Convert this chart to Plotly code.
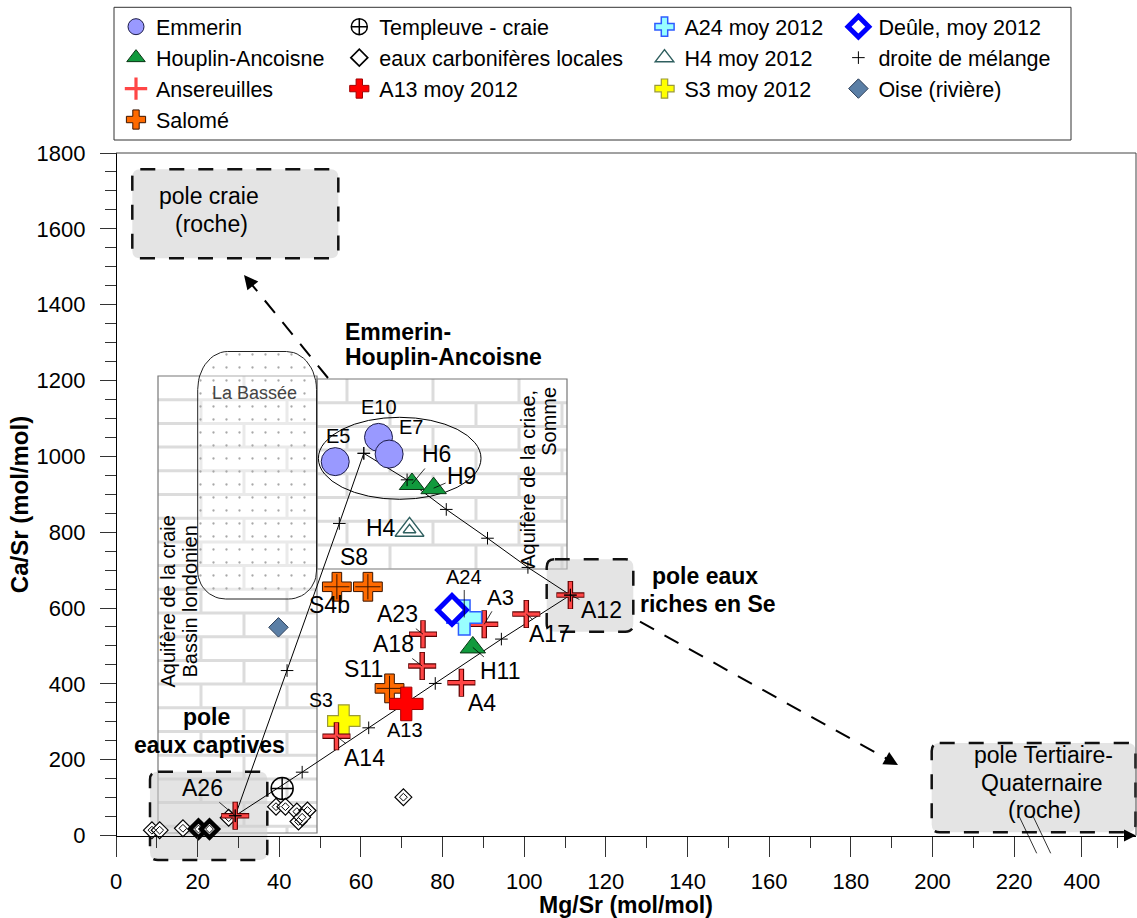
import numpy as np
import plotly.graph_objects as go

FONT = "Liberation Sans, Arial, sans-serif"

# ---------------- data ----------------
emmerin_names = ["E5", "E10", "E7"]
emmerin_x = [53.7, 64.3, 66.9]
emmerin_y = [986, 1050, 1006]

houplin_names = ["H6", "H9", "H11"]
houplin_x = [72.5, 77.8, 87.4]
houplin_y = [927, 916, 496]

ansereuilles_names = ["A12", "A17", "A3", "A23", "A18", "A4", "A14", "A26"]
ansereuilles_x = [111.3, 100.5, 90.2, 75.2, 75.0, 84.6, 54.0, 29.2]
ansereuilles_y = [634, 584, 557, 531, 447, 403, 262, 52]

salome_names = ["S4b", "S8", "S11"]
salome_x = [54.1, 61.7, 67.0]
salome_y = [656, 656, 388]

templeuve_x = [40.7]
templeuve_y = [124]

carbonifere_x = [8.8, 10.7, 16.4, 20.2, 22.9, 27.6, 39.2, 41.5, 44.3, 46.9, 44.7, 45.6, 70.4]
carbonifere_y = [14, 14, 19, 17, 17, 47, 76, 76, 63, 66, 37, 48, 101]

a13_names, a13_x, a13_y = ["A13"], [71.1], [347]
a24_names, a24_x, a24_y = ["A24"], [85.3], [575]
h4_names, h4_x, h4_y = ["H4"], [71.9], [806]
s3_names, s3_x, s3_y = ["S3"], [55.8], [302]
deule_x, deule_y = [82.3], [595]
oise_x, oise_y = [39.8], [549]

# droite de mélange : three mixing segments (A26 -> E, E -> A12, A26 -> A12)
melange_x = [29.2, 41.9, 54.7, 60.7, None,
             60.7, 71.3, 80.9, 91.0, 100.9, 111.3, None,
             29.2, 45.6, 61.9, 78.2, 94.4, 111.3]
melange_y = [52, 435, 823, 1008, None,
             1008, 938, 860, 784, 707, 634, None,
             52, 167, 284, 401, 518, 634]

x_tick_values = list(range(0, 221, 20))
x_tick_labels = [str(v) for v in x_tick_values]
y_tick_values = list(range(0, 1801, 200))

# ---------------- layout geometry helpers ----------------
W_FIG, H_FIG = 1137, 918
L, T, PW, PH = 116, 153, 1020, 703
XS = 4.0825                 # px per x unit
YS = 682.5 / 1800           # px per y unit
BREAK_POS = 236.6           # axis position used for the "400" label after the break


def px_x(x): return L + x * XS
def px_y(y): return T + (1800 - y) * YS
def dat_x(px): return (px - L) / XS
def dat_y(py): return 1800 - (py - T) / YS
def pap_x(px): return (px - L) / PW
def pap_y(py): return (T + PH - py) / PH
def P(px, py): return f"{pap_x(px):.5f},{pap_y(py):.5f}"


def rbox_path(x0, y0, x1, y1, r=8):
    return (f"M{P(x0 + r, y0)} L{P(x1 - r, y0)} Q{P(x1, y0)} {P(x1, y0 + r)} "
            f"L{P(x1, y1 - r)} Q{P(x1, y1)} {P(x1 - r, y1)} L{P(x0 + r, y1)} "
            f"Q{P(x0, y1)} {P(x0, y1 - r)} L{P(x0, y0 + r)} Q{P(x0, y0)} {P(x0 + r, y0)} Z")


def brick_path(x0, y0, x1, y1, bw=86, bh=23.7, shift=0):
    segs = []
    y = y0 + bh
    while y < y1 - 3:
        segs.append(f"M{P(x0, y)} L{P(x1, y)}")
        y += bh
    row, yt = 0, y0
    while yt < y1 - 3:
        yb = min(yt + bh, y1)
        x = x0 + ((shift + (bw / 2 if row % 2 else 0)) % bw)
        while x < x1 - 3:
            if x > x0 + 3:
                segs.append(f"M{P(x, yt)} L{P(x, yb)}")
            x += bw
        row += 1
        yt += bh
    return " ".join(segs)


def rounded_outline(x0, y0, x1, y1, rtx, rty, rbx, rby, n=14):
    pts = []
    for a in np.linspace(np.pi, 1.5 * np.pi, n):
        pts.append((x0 + rtx + rtx * np.cos(a), y0 + rty + rty * np.sin(a)))
    for a in np.linspace(1.5 * np.pi, 2 * np.pi, n):
        pts.append((x1 - rtx + rtx * np.cos(a), y0 + rty + rty * np.sin(a)))
    for a in np.linspace(0, 0.5 * np.pi, n):
        pts.append((x1 - rbx + rbx * np.cos(a), y1 - rby + rby * np.sin(a)))
    for a in np.linspace(0.5 * np.pi, np.pi, n):
        pts.append((x0 + rbx + rbx * np.cos(a), y1 - rby + rby * np.sin(a)))
    pts.append(pts[0])
    return [dat_x(p[0]) for p in pts], [dat_y(p[1]) for p in pts]


fig = go.Figure()

# La Bassée dotted area
bx, by = rounded_outline(197.7, 351.5, 316.5, 599, 30, 38, 28, 28)
fig.add_trace(go.Scatter(
    x=bx, y=by, mode="lines", fill="toself",
    fillcolor="rgba(255,255,255,0.4)",
    fillpattern=dict(shape=".", bgcolor="rgba(255,255,255,0.4)", fgcolor="#a8a8a8",
                     size=13, solidity=0.025),
    line=dict(color="#222", width=1), showlegend=False, hoverinfo="skip"))

# mixing lines
fig.add_trace(go.Scatter(x=melange_x, y=melange_y, mode="lines",
                         line=dict(color="black", width=1), showlegend=False,
                         hoverinfo="skip", legend="legend4"))

# eaux carbonifères locales
carb_lw = [1.2] * len(carbonifere_x)
carb_lw[3] = 4.5
carb_lw[4] = 4.5
fig.add_trace(go.Scatter(
    x=carbonifere_x, y=carbonifere_y, mode="markers", name="eaux carbonifères locales",
    marker=dict(symbol="diamond", size=13, color="white",
                line=dict(color="black", width=carb_lw)),
    legend="legend2", legendgroup="carb", legendrank=2))
fig.add_trace(go.Scatter(
    x=carbonifere_x, y=carbonifere_y, mode="markers", showlegend=False,
    marker=dict(symbol="diamond-open", size=6, color="black", line=dict(color="black", width=1)),
    legend="legend2", legendgroup="carb", hoverinfo="skip"))

# Templeuve
fig.add_trace(go.Scatter(
    x=templeuve_x, y=templeuve_y, mode="markers", name="Templeuve - craie",
    marker=dict(symbol="circle-cross-open", size=22, color="black",
                line=dict(color="black", width=1.5)),
    legend="legend2", legendgroup="temp", legendrank=1))

# Salomé
fig.add_trace(go.Scatter(
    x=salome_x, y=salome_y, mode="markers", name="Salomé",
    marker=dict(symbol="cross", size=24, color="#ff6a00", line=dict(color="#3b1500", width=1)),
    legend="legend", legendgroup="sal", legendrank=4))
fig.add_trace(go.Scatter(
    x=salome_x, y=salome_y, mode="markers", showlegend=False, hoverinfo="skip",
    marker=dict(symbol="cross-thin-open", size=18, color="#3b1500", line=dict(color="#3b1500", width=1)),
    legend="legend", legendgroup="sal"))

# S3 moy 2012
fig.add_trace(go.Scatter(
    x=s3_x, y=s3_y, mode="markers", name="S3 moy 2012",
    marker=dict(symbol="cross", size=27, color="#ffff00", line=dict(color="#9a9a3a", width=1.2)),
    legend="legend3", legendgroup="s3", legendrank=3))

# A13 moy 2012
fig.add_trace(go.Scatter(
    x=a13_x, y=a13_y, mode="markers", name="A13 moy 2012",
    marker=dict(symbol="cross", size=28, color="#ff0000", line=dict(color="#a00000", width=1)),
    legend="legend2", legendgroup="a13", legendrank=3))

# Ansereuilles (thin red cross with dark outline)
fig.add_trace(go.Scatter(
    x=ansereuilles_x, y=ansereuilles_y, mode="markers", showlegend=False, hoverinfo="skip",
    marker=dict(symbol="cross-thin-open", size=20, color="#5a0000",
                line=dict(color="#5a0000", width=5.5)),
    legend="legend", legendgroup="ans"))
fig.add_trace(go.Scatter(
    x=ansereuilles_x, y=ansereuilles_y, mode="markers", name="Ansereuilles",
    marker=dict(symbol="cross-thin-open", size=19, color="#ff4646",
                line=dict(color="#ff4646", width=3.2)),
    legend="legend", legendgroup="ans", legendrank=3))

# A24 moy 2012
fig.add_trace(go.Scatter(
    x=a24_x, y=a24_y, mode="markers", name="A24 moy 2012",
    marker=dict(symbol="cross", size=29, color="#99ffff", line=dict(color="#2e5cff", width=1.5)),
    legend="legend3", legendgroup="a24", legendrank=1))

# Deûle
fig.add_trace(go.Scatter(
    x=deule_x, y=deule_y, mode="markers", name="Deûle, moy 2012",
    marker=dict(symbol="diamond", size=22, color="white", line=dict(color="#0000ff", width=5)),
    legend="legend4", legendgroup="deule", legendrank=1))

# Emmerin
fig.add_trace(go.Scatter(
    x=emmerin_x, y=emmerin_y, mode="markers", name="Emmerin",
    marker=dict(symbol="circle", size=28, color="#9999ff", line=dict(color="#1c1c48", width=1)),
    legend="legend", legendgroup="emm", legendrank=1))

# Houplin-Ancoisne
fig.add_trace(go.Scatter(
    x=houplin_x, y=houplin_y, mode="markers", name="Houplin-Ancoisne",
    marker=dict(symbol="triangle-up", size=22, color="#119a3d", line=dict(color="#0a3414", width=1)),
    legend="legend", legendgroup="hou", legendrank=2))

# H4 moy 2012
fig.add_trace(go.Scatter(
    x=h4_x, y=h4_y, mode="markers", name="H4 moy 2012",
    marker=dict(symbol="triangle-up", size=25, color="white", line=dict(color="#2f5f5f", width=1.5)),
    legend="legend3", legendgroup="h4", legendrank=2))
fig.add_trace(go.Scatter(
    x=h4_x, y=h4_y, mode="markers", showlegend=False, hoverinfo="skip",
    marker=dict(symbol="triangle-up-open", size=11, color="#2f5f5f", line=dict(color="#2f5f5f", width=1.5)),
    legend="legend3", legendgroup="h4"))

# droite de mélange markers
fig.add_trace(go.Scatter(
    x=melange_x, y=melange_y, mode="markers", name="droite de mélange",
    marker=dict(symbol="cross-thin-open", size=9, color="black", line=dict(color="black", width=1)),
    legend="legend4", legendgroup="mel", legendrank=2))

# Oise
fig.add_trace(go.Scatter(
    x=oise_x, y=oise_y, mode="markers", name="Oise (rivière)",
    marker=dict(symbol="diamond", size=15, color="#5b7fa6", line=dict(color="#2c3e58", width=1)),
    legend="legend4", legendgroup="oise", legendrank=3))

# ---------------- shapes ----------------
shapes = []
BASSIN = (158, 376, 317, 833)
SOMME = (317, 379, 567, 569)
for (x0, y0, x1, y1) in (BASSIN, SOMME):
    shapes.append(dict(type="rect", xref="paper", yref="paper", x0=pap_x(x0), x1=pap_x(x1),
                       y0=pap_y(y1), y1=pap_y(y0), fillcolor="white", line=dict(width=0), layer="below"))
for (x0, y0, x1, y1), sh in ((BASSIN, 0), (SOMME, 30)):
    shapes.append(dict(type="path", xref="paper", yref="paper", path=brick_path(x0, y0, x1, y1, shift=sh),
                       line=dict(color="#dcdcdc", width=3), layer="below"))
for (x0, y0, x1, y1) in (BASSIN, SOMME):
    shapes.append(dict(type="rect", xref="paper", yref="paper", x0=pap_x(x0), x1=pap_x(x1),
                       y0=pap_y(y1), y1=pap_y(y0), line=dict(color="#777", width=1.2), layer="below"))

# dashed "pole" boxes
for (x0, y0, x1, y1) in ((132.3, 169.3, 338.3, 258.3), (546.7, 559.3, 633.3, 631.7),
                         (150, 771.7, 267.3, 860), (931.7, 743, 1135.5, 832.3)):
    shapes.append(dict(type="path", xref="paper", yref="paper", path=rbox_path(x0, y0, x1, y1, 8),
                       fillcolor="rgba(205,205,205,0.55)",
                       line=dict(color="#111", width=2.5, dash="15px,14px"), layer="below"))

# ellipse around Emmerin / Houplin
shapes.append(dict(type="circle", xref="paper", yref="paper", x0=pap_x(318.4), x1=pap_x(481),
                   y0=pap_y(499.3), y1=pap_y(417.3), line=dict(color="black", width=1), layer="below"))

# dashed arrows (lines; heads added as annotations)
ARROWS = [((328, 378), (244, 275)), ((640, 621.7), (898, 765))]
for (tx, ty), (hx, hy) in ARROWS:
    d = np.hypot(hx - tx, hy - ty)
    ux, uy = (hx - tx) / d, (hy - ty) / d
    shapes.append(dict(type="line", xref="paper", yref="paper", x0=pap_x(tx), y0=pap_y(ty),
                       x1=pap_x(hx - 10 * ux), y1=pap_y(hy - 10 * uy),
                       line=dict(color="black", width=2, dash="16px,12px"), layer="below"))

# axis break marks
for (x0, y0, x1, y1) in ((1019.3, 816.7, 1036.7, 853.3), (1033.3, 816.7, 1050.7, 853.3)):
    shapes.append(dict(type="line", xref="paper", yref="paper", x0=pap_x(x0), y0=pap_y(y0),
                       x1=pap_x(x1), y1=pap_y(y1), line=dict(color="black", width=0.8)))

# frame (top / right)
shapes.append(dict(type="line", xref="paper", yref="paper", x0=0, x1=1, y0=1, y1=1,
                   line=dict(color="#444", width=1)))
shapes.append(dict(type="line", xref="paper", yref="paper", x0=1, x1=1, y0=1, y1=pap_y(px_y(0)),
                   line=dict(color="#444", width=1)))
# legend frame
shapes.append(dict(type="rect", xref="paper", yref="paper", x0=pap_x(114), x1=pap_x(1071),
                   y0=pap_y(140), y1=pap_y(7.3), line=dict(color="#333", width=1)))

# ---------------- annotations ----------------
ann = []


def text_px(txt, x, y, size=23, bold=False, color="black", angle=0, xanchor="center"):
    ann.append(dict(text=txt, xref="paper", yref="paper", x=pap_x(x), y=pap_y(y), showarrow=False,
                    xanchor=xanchor, yanchor="middle", textangle=angle,
                    font=dict(family=FONT, size=size, color=color, weight="bold" if bold else "normal")))


text_px("Emmerin-", 343.3, 331.7, 23, True, xanchor="left")
text_px("Houplin-Ancoisne", 343.3, 357.3, 23, True, xanchor="left")
text_px("La Bassée", 254, 393.3, 18, color="#444")
text_px("Aquifère de la craie", 167, 601.5, 20, angle=-90)
text_px("Bassin londonien", 189.5, 602, 20, angle=-90)
text_px("Aquifère de la criae,", 528.3, 478.5, 20, angle=-90)
text_px("Somme", 548.3, 421.5, 20, angle=-90)
text_px("pole craie", 209, 196, 23)
text_px("(roche)", 211, 224, 23)
text_px("pole eaux", 705, 576, 23, True)
text_px("riches en Se", 708, 604, 23, True)
text_px("pole", 206.7, 717, 23, True)
text_px("eaux captives", 209, 745, 23, True)
text_px("pole Tertiaire-", 1043, 755, 23)
text_px("Quaternaire", 1041, 782.5, 23)
text_px("(roche)", 1044, 810, 23)

# arrow heads
for (tx, ty), (hx, hy) in ARROWS:
    d = np.hypot(hx - tx, hy - ty)
    ux, uy = (hx - tx) / d, (hy - ty) / d
    ann.append(dict(text="", xref="paper", yref="paper", x=pap_x(hx), y=pap_y(hy),
                    ax=-15 * ux, ay=-15 * uy, showarrow=True, arrowhead=2, arrowsize=1.4,
                    arrowwidth=2, arrowcolor="black", standoff=0))
# x-axis end arrow
ann.append(dict(text="", xref="paper", yref="y", x=pap_x(1137.5), y=0, ax=-13, ay=0,
                showarrow=True, arrowhead=2, arrowsize=1.2, arrowwidth=2, arrowcolor="black", standoff=0))

# point labels: (dx, dy) pixel offsets, font size, leader line
LABEL_STYLE = {
    "E5": (3, -26, 20, False), "E10": (0, -30, 20, False), "E7": (22, -27, 20, False),
    "H6": (25, -30, 23, True), "H9": (28, -12, 23, True), "H11": (28, 24, 23, True),
    "H4": (-29, -2, 23, False),
    "S4b": (-7, 18, 23, False), "S8": (-14, -30, 23, False), "S11": (-26, -19, 23, False),
    "A12": (31, 15, 23, True), "A17": (23, 20, 23, True), "A3": (16, -27, 22, True),
    "A23": (-26, -20, 23, True), "A18": (-29, -22, 23, True), "A4": (21, 20, 23, False),
    "A14": (28, 22, 23, True), "A26": (-33, -28, 23, True),
    "A24": (0, -40, 20, True), "S3": (-23, -21, 19.5, False), "A13": (-1, 26, 20, False),
}
for names, xs, ys in ((emmerin_names, emmerin_x, emmerin_y), (houplin_names, houplin_x, houplin_y),
                      (h4_names, h4_x, h4_y), (salome_names, salome_x, salome_y),
                      (ansereuilles_names, ansereuilles_x, ansereuilles_y),
                      (a24_names, a24_x, a24_y), (s3_names, s3_x, s3_y), (a13_names, a13_x, a13_y)):
    for nm, xv, yv in zip(names, xs, ys):
        ddx, ddy, fs, leader = LABEL_STYLE[nm]
        a = dict(text=nm, x=xv, y=yv, xref="x", yref="y",
                 font=dict(family=FONT, size=fs, color="black"))
        if leader:
            a.update(showarrow=True, ax=ddx, ay=ddy, arrowhead=0, arrowwidth=0.8,
                     arrowcolor="black", standoff=0)
        else:
            a.update(showarrow=False, xshift=ddx, yshift=-ddy)
        ann.append(a)

# ---------------- layout ----------------
leg_common = dict(font=dict(family=FONT, size=21.5, color="black"), bgcolor="rgba(0,0,0,0)",
                  borderwidth=0, tracegroupgap=0, xanchor="left", yanchor="top",
                  y=pap_y(6.2), orientation="v", traceorder="grouped")

minor_x = [v for v in range(10, 220, 20)] + [245.4]
minor_y = [v for v in range(50, 1800, 50) if v % 200]

fig.update_layout(
    width=W_FIG, height=H_FIG, autosize=False, template="none",
    margin=dict(l=L, r=W_FIG - L - PW, t=T, b=H_FIG - T - PH, pad=0),
    paper_bgcolor="white", plot_bgcolor="rgba(0,0,0,0)",
    font=dict(family=FONT, size=22, color="black"),
    xaxis=dict(range=[0, PW / XS], anchor="free", position=pap_y(px_y(0)),
               tickmode="array", tickvals=x_tick_values + [BREAK_POS],
               ticktext=x_tick_labels + ["400"],
               ticks="outside", ticklen=20, tickwidth=1, tickcolor="#333",
               showline=True, linecolor="black", linewidth=1.2, showgrid=False, zeroline=False,
               tickfont=dict(family=FONT, size=22, color="black"), ticklabelstandoff=6,
               minor=dict(tickvals=minor_x, ticks="outside", ticklen=11, tickwidth=1,
                          tickcolor="#333", showgrid=False),
               title=dict(text="Mg/Sr (mol/mol)", standoff=0,
                          font=dict(family=FONT, size=23, color="black", weight="bold"))),
    yaxis=dict(range=[dat_y(T + PH), 1800], anchor="free", position=0,
               tickmode="array", tickvals=y_tick_values,
               ticks="outside", ticklen=16, tickwidth=1, tickcolor="#333",
               showline=True, linecolor="black", linewidth=1.2, showgrid=False, zeroline=False,
               tickfont=dict(family=FONT, size=22, color="black"), ticklabelstandoff=10,
               minor=dict(tickvals=minor_y, ticks="outside", ticklen=11, tickwidth=1,
                          tickcolor="#333", showgrid=False),
               title=dict(text="Ca/Sr (mol/mol)", standoff=0,
                          font=dict(family=FONT, size=24, color="black", weight="bold"))),
    legend=dict(x=pap_x(116), **leg_common),
    legend2=dict(x=pap_x(339.3), **leg_common),
    legend3=dict(x=pap_x(644.5), **leg_common),
    legend4=dict(x=pap_x(838.4), **leg_common),
    shapes=shapes, annotations=ann, showlegend=True,
)

fig.write_html("out.html")
